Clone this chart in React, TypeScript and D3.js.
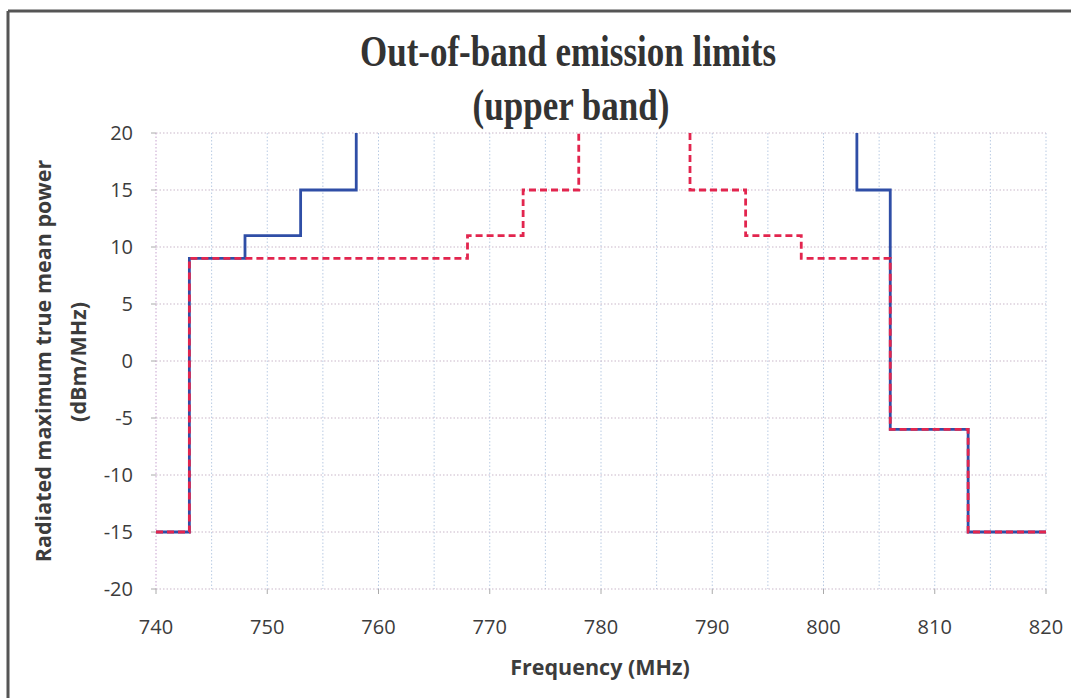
import * as d3 from 'd3';

// frequency (MHz) breakpoints and limit levels (dBm/MHz)
const blueRiseFreq = [740, 743, 748, 753, 758];
const blueRiseLevel = [-15, 9, 11, 15, 20];
const blueFallFreq = [803, 806, 813, 820];
const blueFallLevel = [20, 15, -6, -15];

const redRiseFreq = [740, 743, 768, 773, 778];
const redRiseLevel = [-15, 9, 11, 15, 20];
const redFallFreq = [788, 793, 798, 806, 813, 820];
const redFallLevel = [20, 15, 11, 9, -6, -15];

const xTicks = [740, 750, 760, 770, 780, 790, 800, 810, 820];
const yTicks = [20, 15, 10, 5, 0, -5, -10, -15, -20];
const xGrid = d3.range(740, 821, 5);

const W = 1071;
const H = 698;
const margin = {left: 156, right: 25, top: 133, bottom: 109};

const toPoints = (fs: number[], ls: number[]) => fs.map((f, i) => [f, ls[i]] as [number, number]);

export default function App() {
    const x = d3.scaleLinear().domain([740, 820]).range([margin.left, W - margin.right]);
    const y = d3.scaleLinear().domain([-20, 20]).range([H - margin.bottom, margin.top]);

    const stepUp = d3.line<[number, number]>()
        .x((d) => x(d[0]))
        .y((d) => y(d[1]))
        .curve(d3.curveStepAfter);
    const stepDown = d3.line<[number, number]>()
        .x((d) => x(d[0]))
        .y((d) => y(d[1]))
        .curve(d3.curveStepBefore);

    const blue = '#2f4ea6';
    const red = '#e2254e';
    const tickFont = {fontFamily: '"Open Sans", sans-serif', fontSize: 20, fill: '#3c3c3c'};

    return (
        <svg width={W} height={H} style={{position: 'absolute', left: 0, top: 0, background: '#fff'}}>
            {/* frame */}
            <line x1={8} x2={W} y1={11} y2={11} stroke="#555" strokeWidth={3} />
            <line x1={8} x2={8} y1={11} y2={H} stroke="#555" strokeWidth={3} />

            {/* title */}
            <g fontFamily='"Liberation Serif", "Times New Roman", serif' fontWeight="bold" fill="#333" textAnchor="middle">
                <text transform={`translate(568, 66) scale(1, 1.25)`} fontSize={35}>Out-of-band emission limits</text>
                <text transform={`translate(571, 120) scale(1, 1.25)`} fontSize={35}>(upper band)</text>
            </g>

            {/* grid */}
            {xGrid.map((f) => (
                <line key={'gx' + f} x1={x(f)} x2={x(f)} y1={y(20)} y2={y(-20)}
                    stroke={f === 740 ? '#c7a3cf' : '#b9cbe3'} strokeWidth={1} strokeDasharray="1.5,2" />
            ))}
            {yTicks.map((v) => (
                <line key={'gy' + v} x1={x(740)} x2={x(820)} y1={y(v)} y2={y(v)}
                    stroke="#c9b7c9" strokeWidth={1} strokeDasharray="1.5,2" />
            ))}

            {/* ticks */}
            {xTicks.map((f) => (
                <line key={'tx' + f} x1={x(f)} x2={x(f)} y1={y(-20)} y2={y(-20) + 5} stroke="#aaa" />
            ))}
            {yTicks.map((v) => (
                <line key={'ty' + v} x1={x(740) - 5} x2={x(740)} y1={y(v)} y2={y(v)} stroke="#aaa" />
            ))}

            {/* tick labels */}
            {xTicks.map((f) => (
                <text key={'lx' + f} x={x(f)} y={634} textAnchor="middle" {...tickFont}>{f}</text>
            ))}
            {yTicks.map((v) => (
                <text key={'ly' + v} x={133} y={y(v) + 7} textAnchor="end" {...tickFont}>{v}</text>
            ))}

            {/* axis titles */}
            <g fontFamily='"Open Sans", sans-serif' fontWeight="bold" fontSize={21.5} fill="#3c3c3c" textAnchor="middle">
                <text x={600} y={675}>Frequency (MHz)</text>
                <text transform="translate(51, 361) rotate(-90)">Radiated maximum true mean power</text>
                <text transform="translate(86, 362) rotate(-90)">(dBm/MHz)</text>
            </g>

            {/* limit lines */}
            <g fill="none" strokeWidth={2.8}>
                <path d={stepUp(toPoints(blueRiseFreq, blueRiseLevel)) || ''} stroke={blue} />
                <path d={stepDown(toPoints(blueFallFreq, blueFallLevel)) || ''} stroke={blue} />
                <path d={stepUp(toPoints(redRiseFreq, redRiseLevel)) || ''} stroke={red} strokeDasharray="7,4" />
                <path d={stepDown(toPoints(redFallFreq, redFallLevel)) || ''} stroke={red} strokeDasharray="7,4" />
            </g>
        </svg>
    );
}
